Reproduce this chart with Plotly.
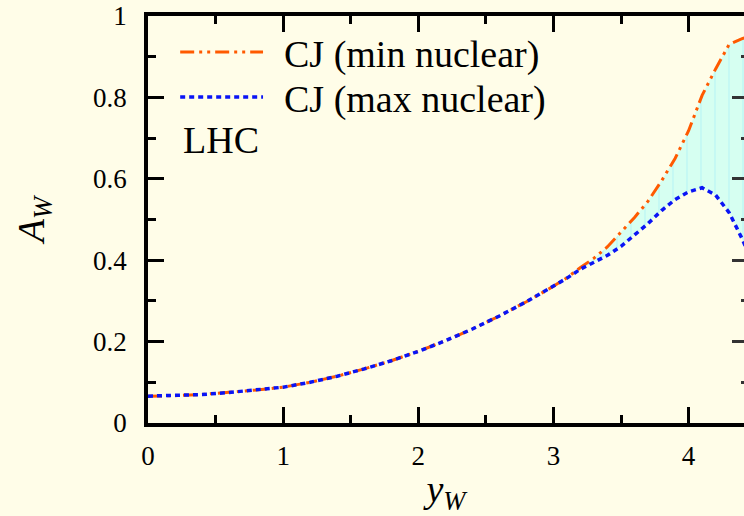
import plotly.graph_objects as go

# A_W vs rapidity y_W at the LHC
y_w = [0.0, 0.2, 0.4, 0.6, 0.8, 1.0, 1.2, 1.4, 1.6, 1.8, 2.0, 2.2, 2.4, 2.6, 2.8, 3.0,
       3.1, 3.2, 3.3, 3.4, 3.5, 3.6, 3.7, 3.8, 3.9, 4.0, 4.1, 4.2, 4.3, 4.4, 4.45]
a_min_nuclear = [0.066, 0.067, 0.070, 0.075, 0.081, 0.088, 0.100, 0.115, 0.133, 0.153,
                 0.176, 0.202, 0.231, 0.263, 0.298, 0.336, 0.357, 0.382, 0.405, 0.433,
                 0.470, 0.505, 0.545, 0.595, 0.650, 0.718, 0.805, 0.870, 0.930, 0.945, 0.948]
a_max_nuclear = [0.066, 0.067, 0.070, 0.075, 0.081, 0.088, 0.100, 0.115, 0.133, 0.153,
                 0.176, 0.202, 0.231, 0.263, 0.298, 0.336, 0.356, 0.378, 0.395, 0.412,
                 0.434, 0.461, 0.490, 0.522, 0.549, 0.568, 0.578, 0.560, 0.517, 0.450, 0.410]

legend_labels = ["CJ (min nuclear)", "CJ (max nuclear)"]
panel_label = "LHC"

COLORS = {
    "bg": "#fffde8",
    "red": "#ff5a00",
    "blue": "#0a14f5",
    "band": "#d6fff1",
    "band_line": "#a8eef6",
    "axis": "#000000",
}
RED_DASH = "14px,5px,3px,5px,3px,5px"
BLUE_DASH = "5px,4px"
FONT = "Liberation Serif, Times New Roman, serif"

fig = go.Figure()

# band between the two curves
fig.add_trace(go.Scatter(
    x=y_w, y=a_max_nuclear, mode="lines",
    line=dict(width=0), showlegend=False, hoverinfo="skip",
))
fig.add_trace(go.Scatter(
    x=y_w, y=a_min_nuclear, mode="lines",
    line=dict(width=0), fill="tonexty",
    fillcolor=COLORS["band"],
    fillpattern=dict(shape="|", fgcolor=COLORS["band_line"], bgcolor=COLORS["band"],
                     size=14, solidity=0.1),
    showlegend=False, hoverinfo="skip",
))

# curves
fig.add_trace(go.Scatter(
    x=y_w, y=a_min_nuclear, mode="lines",
    line=dict(color=COLORS["red"], width=3, dash=RED_DASH),
    name=legend_labels[0], showlegend=False,
))
fig.add_trace(go.Scatter(
    x=y_w, y=a_max_nuclear, mode="lines",
    line=dict(color=COLORS["blue"], width=3.5, dash=BLUE_DASH),
    name=legend_labels[1], showlegend=False,
))

# hand-made legend (long line samples as in the original)
for (yy, color, dash, w), label in zip(
        [(0.9115, COLORS["red"], RED_DASH, 3), (0.801, COLORS["blue"], BLUE_DASH, 3.5)],
        legend_labels):
    fig.add_shape(type="line", xref="paper", yref="paper",
                  x0=0.054, x1=0.193, y0=yy, y1=yy,
                  line=dict(color=color, width=w, dash=dash))
    fig.add_annotation(xref="paper", yref="paper", x=0.2248, y=yy - 0.006,
                       xanchor="left", yanchor="middle", showarrow=False,
                       text=label, font=dict(size=38, family=FONT, color="black"))
fig.add_annotation(xref="paper", yref="paper", x=0.056, y=0.695,
                   xanchor="left", yanchor="middle", showarrow=False,
                   text=panel_label, font=dict(size=38, family=FONT, color="black"))

tick_font = dict(size=27, family=FONT, color="black")

fig.update_layout(
    width=744, height=516,
    paper_bgcolor=COLORS["bg"], plot_bgcolor=COLORS["bg"],
    margin=dict(l=148, r=0, t=16, b=93),
    font=dict(family=FONT, color="black"),
    showlegend=False,
    xaxis=dict(
        range=[0, 4.41], dtick=1, tick0=0,
        ticks="inside", ticklen=16, tickwidth=2.5, tickcolor="black",
        minor=dict(dtick=0.5, ticks="inside", ticklen=8, tickwidth=2.5, tickcolor="black"),
        showline=True, linewidth=3.5, linecolor="black",
        showgrid=False, zeroline=False,
        tickfont=tick_font, ticklabelstandoff=6,
        title=dict(text="<i>y</i><sub><i>W</i></sub>", font=dict(size=38, family=FONT),
                   standoff=8),
    ),
    xaxis2=dict(
        range=[0, 4.41], dtick=1, tick0=0, overlaying="x", side="top",
        ticks="inside", ticklen=16, tickwidth=2.5, tickcolor="black",
        minor=dict(dtick=0.5, ticks="inside", ticklen=8, tickwidth=2.5, tickcolor="black"),
        showline=True, linewidth=3.5, linecolor="black",
        showgrid=False, zeroline=False, showticklabels=False,
    ),
    yaxis=dict(
        range=[0, 1], dtick=0.2, tick0=0,
        ticks="inside", ticklen=16, tickwidth=2.5, tickcolor="black",
        minor=dict(dtick=0.1, ticks="inside", ticklen=8, tickwidth=2.5, tickcolor="black"),
        showline=True, linewidth=3.5, linecolor="black",
        showgrid=False, zeroline=False,
        tickfont=tick_font, ticklabelstandoff=12,
        title=dict(text="<i>A</i><sub><i>W</i></sub>", font=dict(size=38, family=FONT),
                   standoff=38),
    ),
    yaxis2=dict(
        range=[0, 1], dtick=0.2, tick0=0, overlaying="y", side="right",
        ticks="inside", ticklen=12, tickwidth=2.5, tickcolor="#333333",
        minor=dict(dtick=0.1, ticks="inside", ticklen=3, tickwidth=2.5, tickcolor="#333333"),
        showline=False, showgrid=False, zeroline=False, showticklabels=False,
    ),
)

# dummy trace so the top / right axes get drawn
fig.add_trace(go.Scatter(x=[None], y=[None], xaxis="x2", yaxis="y2",
                         showlegend=False, hoverinfo="skip"))

# the page has a default 8px body margin; drop it so the figure sits at (0, 0)
fig.write_html("out.html",
               config={"displayModeBar": False},
               post_script="document.body.style.margin='0';"
                           "document.body.style.background='#fffde8';")
